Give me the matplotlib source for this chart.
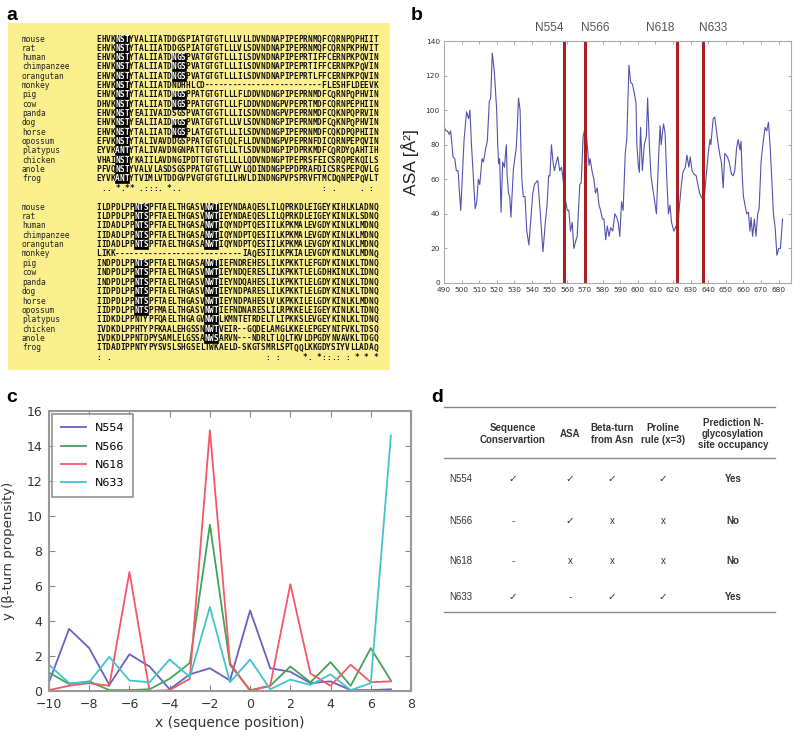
import matplotlib
matplotlib.use("Agg")
import matplotlib.pyplot as plt
from matplotlib.patches import Rectangle
import matplotlib.transforms as mtransforms

## ---- panel a : alignement des sequences
species = ["mouse", "rat", "human", "chimpanzee", "orangutan", "monkey", "pig", "cow",
           "panda", "dog", "horse", "opossum", "platypus", "chicken", "anole", "frog"]

block1 = [
    "EHVKNSTYVALIIATDDGSPIATGTGTLLLVLLDVNDNAPIPEPRNMQFCQRNPQPHIIT",
    "EHVKNSTYTALIIATDDGSPIATGTGTLLLVLSDVNDNAPIPEPRNMQFCQRNPKPHVIT",
    "EHVKNSTYTALIIATDNGSPVATGTGTLLLILSDVNDNAPIPEPRTIFFCERNPKPQVIN",
    "EHVKNSTYTALIIATDNGSPVATGTGTLLLILSDVNDNAPIPEPRTIFFCERNPKPQVIN",
    "EHVKNSTYTALIIATDNGSPVATGTGTLLLILSDVNDNAPIPEPRTLFFCERNPKPQVIN",
    "EHVKNSTYTALIIATDNDHHLCD-------------------------FLESHFLDEEVK",
    "EHVKNSTYTALIIATDNGSPPATGTGTLLLFLDDVNDNGPIPEPRNMDFCQRNPQPHVIN",
    "DHVKNSTYTALIIATDNGSPPATGTGTLLLFLDDVNDNGPVPEPRTMDFCQRNPEPHIIN",
    "EHVKNSTYEAIIVAIDSGSPVATGTGTLLLILSDVNDNGPVPEPRNMDFCQKNPQPRVIN",
    "EHVKNSTYEALIIAIDNGSPVATGTGTLLLVLSDVNDNGPIPEPRNMDFCQKNPQPHVIN",
    "EHVKNSTYTALIIATDNGSPLATGTGTLLLILSDVNDNGPIPEPRNMDFCQKDPQPHIIN",
    "EFVKNSTYTALIVAVDDGSPPATGTGTLQLFLLDVNDNGPVPEPRNFDICQRNPEPQVIN",
    "EYVKANTYTALIVAVDNGNPATTGTGTLLLTLSDVNDNGPIPDPRKMDFCQRDYQAHTIH",
    "VHAINSTYKAIILAVDNGIPDTTGTGTLLLLLQDVNDNGPTPEPRSFEICSRQPEKQILS",
    "PFVQNSTYVALVLASDSGSPPATGTGTLLVYLQDINDNGPEPDPRAFDICSRSPEPQVLG",
    "EYVKANTYTVIMLVTDDGVPVGTGTGTLILHVLDINDNGPVPSPRVFTMCDQNPEPQVLT",
]
cons1 = " .. *.** .:::. *.." + " " * 30 + ": ." + " " * 5 + ". :" + " "

block2 = [
    "ILDPDLPPNTSPFTAELTHGASVNWTIEYNDAAQESLILQPRKDLEIGEYKIHLKLADNQ",
    "ILDPDLPPNTSPFTAELTHGASVNWTIEYNDAEQESLILQPRKDLEIGEYKINLKLSDNQ",
    "IIDADLPPNTSPFTAELTHGASANWTIQYNDPTQESIILKPKMALEVGDYKINLKLMDNQ",
    "IIDADLPPNTSPFTAELTHGASANWTIQYNDPTQESIILKPKMALEVGDYKINLKLMDNQ",
    "IIDADLPPNTSPFTAELTHGASANWTIQYNDPTQESIILKPKMALEVGDYKINLKLMDNQ",
    "LIKK---------------------------IAQESIILKPKIALEVGDYKINLKLMDNQ",
    "INDPDLPPNTSPFTAELTHGASANWTIEFNDREHESLILKPKKTLEFGDYKINLKLTDNQ",
    "INDPDLPPNTSPFTAELTHGASVNWTIEYNDQERESLILKPKKTLELGDHKINLKLIDNQ",
    "INDPDLPPNTSPFTAELTHGASVNWTIEYNDQAHESLILKPKKTLELGDYKINLKLTDNQ",
    "IIDPDLPPNTSPFTAELTHGASVNWTIEYNDPARESLILKPKKTLELGDYKINLKLTDNQ",
    "IIDPDLPPNTSPFTAELTHGASVNWTIEYNDPAHESLVLKPKKILELGDYKINLKLMDNQ",
    "IIDPDLPPNTSPFMAELTHGASVNWTIEFNDNARESLILRPKKELEIGEYKINLKLTDNQ",
    "IIDKDLPPNTYPFQAELTHGAGVNWTLKMNTETRDELTLIPKKSLEVGEYKINLKLTDNQ",
    "IVDKDLPPHTYPFKAALEHGSSNNWTVEIR--GQDELAMGLKKELEPGEYNIFVKLTDSQ",
    "IVDKDLPPNTDPYSAMLELGSSANWSARVN---NDRLTLQLTKVLDPGDYNVAVKLTDGQ",
    "ITDADIPPNTYPYSVSLSHGSELTWKAELD-SKGTSMRLSPTQQLKKGDYSIYVLLADAQ",
]
cons2 = ": ." + " " * 33 + ": :" + " " * 5 + "*. *::.: : * * *"

# debut des motifs surlignes (3 residus) pour chaque espece
hl1 = [[4], [4], [4, 16], [4, 16], [4, 16], [4], [4, 16], [4, 16],
       [4], [4, 16], [4, 16], [4], [4], [4], [4], [4]]
hl2 = [[8, 23], [8, 23], [8, 23], [8, 23], [8, 23], [], [8, 23], [8, 23],
       [8, 23], [8, 23], [8, 23], [8, 23], [23], [23], [23], []]

## ---- panel b : ASA
asa_res = [490, 491, 492, 493, 493.8, 494.5, 495.1, 496.1, 497, 498, 498.6, 499.5, 501.4, 502.8,
           504, 504.7, 505.6, 507.7, 508.6, 509.5, 510.3, 511.6, 512.4, 513.7, 514.6, 515.7,
           516.5, 517.4, 518.6, 519.9, 520.5, 521, 521.6, 522.4, 523.3, 524.3, 525.4, 525.8,
           526.6, 527.3, 528, 529.4, 531, 531.6, 532.3, 533.2, 533.6, 534.2, 535, 536, 537,
           538.2, 539.5, 540.4, 541.4, 542.8, 543.3, 544.7, 546.2, 547.5, 548.5, 549.4, 550.1,
           551, 551.9, 552.7, 553.8, 554.6, 555.7, 556.7, 557.6, 558.6, 560, 560.9, 561.8,
           562.8, 563.7, 565, 565.6, 567.1, 567.9, 569, 570.4, 571.3, 572.3, 572.9, 574.2,
           575.1, 576, 577, 578, 578.9, 579.9, 580.8, 581.8, 582.7, 583.7, 584.6, 585.8, 587,
           588.1, 588.9, 589.8, 590.8, 591.7, 592.9, 593.8, 595, 596, 597, 598, 599, 599.5,
           600.3, 600.9, 601.6, 602.6, 603.7, 604.9, 605.6, 606.6, 607.5, 608.5, 610.6, 611.7,
           612.7, 613.3, 614.6, 615.5, 616.5, 617.4, 618.3, 619.2, 620.5, 621.8, 622.8, 623.7,
           624.6, 625.6, 627, 627.9, 629, 629.8, 630.8, 631.9, 633.2, 634.1, 635.1, 636, 637,
           638, 640, 641, 641.5, 642.8, 643.7, 644.7, 645.7, 646.8, 647.5, 648.5, 649.4, 650.9,
           651.9, 653.2, 654.2, 655.1, 656.1, 657, 658, 658.6, 659.4, 660, 661.8, 662.8, 663.7,
           664.3, 665.2, 666.2, 667.1, 668.1, 668.9, 670, 671, 672.3, 673.2, 674.2, 675.1,
           676.1, 677, 678, 679, 680, 681, 682.2]
asa_val = [91, 88, 88, 86, 88, 80, 73, 72, 65, 65, 55, 42, 83, 99,
           95, 100, 80, 43, 47, 60, 57, 72, 70, 78, 82, 105,
           107, 133, 122, 100, 80, 69, 72, 41, 70, 67, 80, 63,
           52, 50, 38, 66, 78, 90, 107, 100, 80, 60, 50, 50, 30,
           22, 40, 52, 57, 59, 59, 40, 18, 35, 45, 62, 62,
           80, 70, 65, 70, 73, 65, 67, 60, 50, 42, 42, 30,
           35, 20, 25, 27, 57, 58, 85, 91, 80, 68, 72, 64,
           60, 52, 55, 45, 42, 37, 37, 25, 33, 27, 32, 30, 40,
           38, 35, 27, 47, 42, 75, 84, 126, 116, 115, 110, 104, 80,
           68, 64, 90, 65, 80, 85, 107, 80, 62, 55, 40, 70,
           91, 80, 92, 87, 60, 40, 45, 35, 30, 33, 33, 45,
           55, 64, 67, 74, 67, 73, 65, 63, 62, 57, 52, 50, 48,
           52, 75, 83, 80, 95, 96, 88, 80, 73, 70, 55, 75, 73,
           70, 63, 62, 65, 78, 83, 77, 82, 60, 50, 40, 41, 30,
           38, 27, 37, 27, 40, 43, 70, 80, 90, 88, 93, 80,
           60, 40, 32, 16, 20, 20, 37]
sites = ["N554", "N566", "N618", "N633"]
site_res = [558, 570, 622, 637]
site_lab_x = [550, 576, 613, 643]

## ---- panel c : propension beta-turn
pos = [-10, -9, -8, -7, -6, -5, -4, -3, -2, -1, 0, 1, 2, 3, 4, 5, 6, 7]
n554 = [0.5, 3.55, 2.45, 0.35, 2.1, 1.4, 0.1, 0.95, 1.3, 0.6, 4.6, 1.3, 1.1, 0.45, 0.55, 0.05, 0.05, 0.1]
n566 = [1.05, 0.4, 0.55, 0.05, 0.05, 0.1, 0.7, 1.6, 9.5, 1.5, 0.05, 0.3, 1.4, 0.5, 1.65, 0.3, 2.45, 0.6]
n618 = [0.05, 0.3, 0.45, 0.3, 6.8, 0.0, 0.05, 0.7, 14.9, 1.6, 0.0, 0.3, 6.1, 1.0, 0.3, 1.5, 0.5, 0.55]
n633 = [1.5, 0.45, 0.5, 1.95, 0.6, 0.5, 1.8, 0.8, 4.8, 0.5, 1.8, 0.1, 0.65, 0.35, 0.95, 0.05, 0.45, 14.6]
c_colors = ["#6a60c2", "#3fa558", "#f25867", "#45c2cb"]

## ---- panel d : tableau
col_heads = ["Sequence\nConservartion", "ASA", "Beta-turn\nfrom Asn",
             "Proline\nrule (x=3)", "Prediction N-\nglycosylation\nsite occupancy"]
rows = [
    ["\u2713", "\u2713", "\u2713", "\u2713", "Yes"],
    ["-", "\u2713", "x", "x", "No"],
    ["-", "x", "x", "x", "No"],
    ["\u2713", "-", "\u2713", "\u2713", "Yes"],
]

W, H = 800, 739
fig = plt.figure(figsize=(8, 7.39), dpi=100)
sans = ["Liberation Sans", "DejaVu Sans"]

## couche en pixels pour a, d et les lettres
ov = fig.add_axes([0, 0, 1, 1])
ov.set_xlim(0, W)
ov.set_ylim(H, 0)
ov.axis("off")

ov.add_patch(Rectangle((8, 23), 382, 347, facecolor="#fcef8e", edgecolor="none"))
x0, cw = 96.5, 4.69
mono = dict(family="DejaVu Sans Mono", fontsize=5.6, fontweight="bold", va="center", ha="center")


def draw_block(seqs, cons, hls, ytop, dy):
    for i, s in enumerate(seqs):
        y = ytop + i * dy
        ov.text(22, y, species[i], family="DejaVu Sans Mono", fontsize=5.7,
                va="center", ha="left", color="#222")
        white = set()
        for j0 in hls[i]:
            ov.add_patch(Rectangle((x0 + j0 * cw, y - 4.3), 3 * cw, 8.6,
                                   facecolor="black", edgecolor="black", lw=0.5))
            white.update([j0, j0 + 1, j0 + 2])
        for j, ch in enumerate(s):
            ov.text(x0 + (j + 0.5) * cw, y, ch, color="white" if j in white else "#111", **mono)
    yc = ytop + len(seqs) * dy
    for j, ch in enumerate(cons):
        if ch != " ":
            ov.text(x0 + (j + 0.5) * cw, yc, ch, color="#111", **mono)


draw_block(block1, cons1, hl1, 39, 9.33)
draw_block(block2, cons2, hl2, 207, 9.4)

for lab, (lx, ly) in zip("abcd", [(12, 15), (417, 15), (12, 398), (437, 398)]):
    ov.text(lx, ly, lab, fontsize=14, fontweight="bold", family=sans, ha="center", va="center")

## tableau (panel d)
tx0, tx1 = 444, 775
col_x = [513, 570, 612, 663, 733]
row_y = [479, 521, 561, 597]
for yy in [407, 458, 612]:
    ov.plot([tx0, tx1], [yy, yy], color="#888", lw=1)
for cx, h in zip(col_x, col_heads):
    ov.text(cx, 434, h, ha="center", va="center", fontsize=7, fontweight="bold",
            family=sans, color="#333", linespacing=1.15)
for ry, site, r in zip(row_y, sites, rows):
    ov.text(449, ry, site, ha="left", va="center", fontsize=7, family=sans, color="#333")
    for k, (cx, v) in enumerate(zip(col_x, r)):
        ov.text(cx, ry, v, ha="center", va="center",
                fontsize=7.5 if v == "\u2713" else 7,
                fontweight="bold" if k == 4 else "normal", family=sans, color="#333")

## panel b
axb = fig.add_axes([444 / W, 1 - 283 / H, (791 - 444) / W, (283 - 41) / H])
axb.plot(asa_res, asa_val, color="#5252b0", lw=0.8)
for r in site_res:
    axb.axvline(r, color="#a82020", lw=2.2)
trans = mtransforms.blended_transform_factory(axb.transData, axb.transAxes)
for s, lx in zip(sites, site_lab_x):
    axb.text(lx, 1.055, s, transform=trans, ha="center", va="center",
             fontsize=8.5, color="#555", family=sans)
axb.set_xlim(490, 687)
axb.set_ylim(0, 140)
axb.set_xticks(range(490, 690, 10))
axb.set_yticks(range(0, 141, 20))
axb.tick_params(direction="in", top=True, right=True, length=2, width=0.5,
                labelsize=5.3, labelcolor="#333", color="#888", pad=3)
for sp in axb.spines.values():
    sp.set_color("#aaa")
    sp.set_linewidth(0.8)
axb.set_ylabel("ASA [\u00c5\u00b2]", fontsize=12.5, family=sans, color="#222", labelpad=5)

## panel c
axc = fig.add_axes([49 / W, 1 - 691 / H, (411 - 49) / W, (691 - 411) / H])
for ys, name, c in zip([n554, n566, n618, n633], sites, c_colors):
    axc.plot(pos, ys, color=c, lw=1.3, label=name)
axc.set_xlim(-10, 8)
axc.set_ylim(0, 16)
axc.set_xticks(range(-10, 9, 2))
axc.set_yticks(range(0, 17, 2))
axc.tick_params(direction="in", top=True, right=True, length=4, width=0.8,
                labelsize=9, labelcolor="#333", color="#888", pad=5)
for sp in axc.spines.values():
    sp.set_color("#999")
    sp.set_linewidth(1.5)
axc.set_xlabel("x (sequence position)", fontsize=10, color="#333", labelpad=4)
axc.set_ylabel("y (\u03b2-turn propensity)", fontsize=9.5, color="#333", labelpad=8)
leg = axc.legend(loc="upper left", fontsize=8, fancybox=False, handlelength=2.2,
                 borderpad=0.8, labelspacing=0.75, borderaxespad=0.3)
leg.get_frame().set_edgecolor("#777")
leg.get_frame().set_linewidth(1.2)

fig.savefig("out.png", dpi=100)
